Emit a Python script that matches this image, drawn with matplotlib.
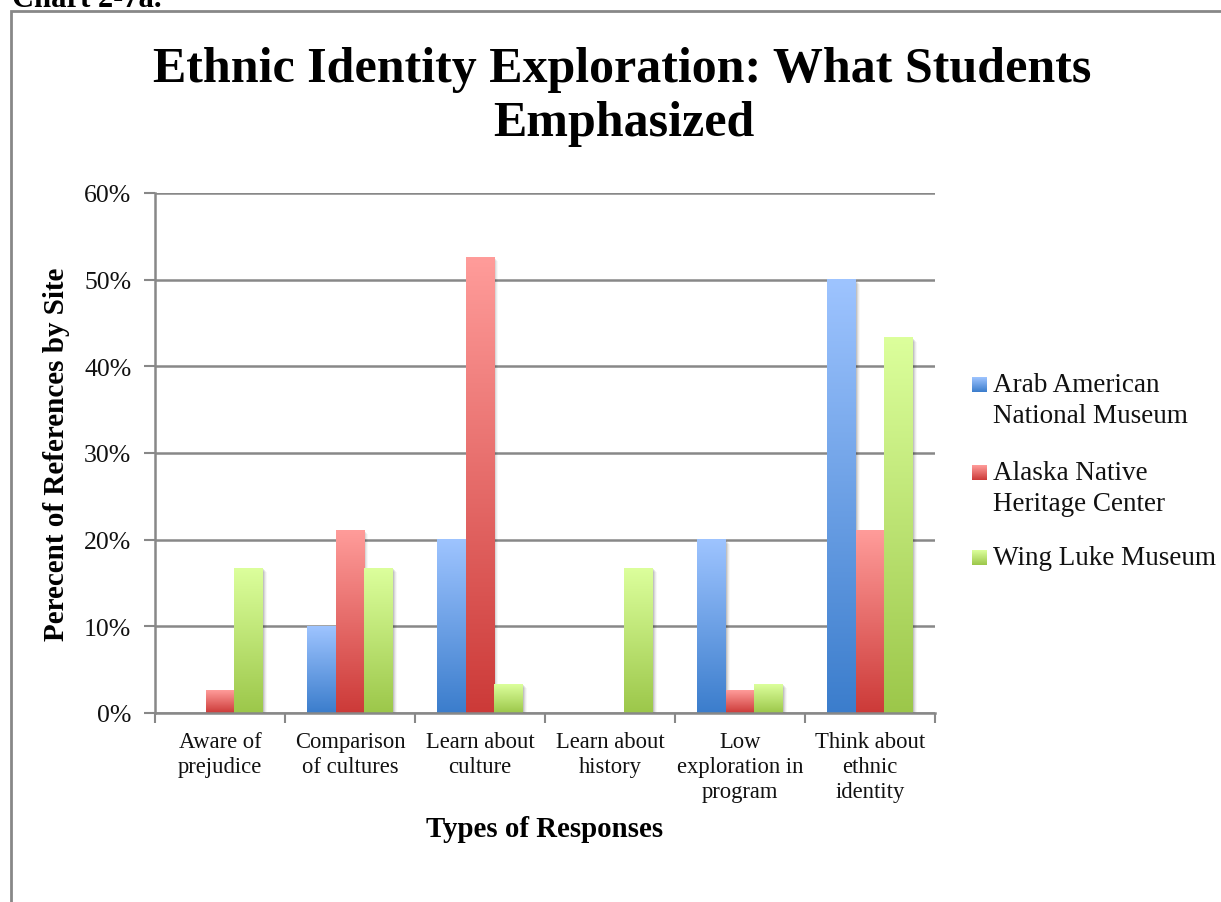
import numpy as np
import matplotlib
matplotlib.use('Agg')
import matplotlib.pyplot as plt
from matplotlib.colors import LinearSegmentedColormap
from matplotlib.patches import Rectangle

categories = ["Aware of\nprejudice", "Comparison\nof cultures", "Learn about\nculture",
              "Learn about\nhistory", "Low\nexploration in\nprogram", "Think about\nethnic\nidentity"]
series_names = ["Arab American\nNational Museum", "Alaska Native\nHeritage Center", "Wing Luke Museum"]
arab = [0.0, 0.10, 0.20, 0.0, 0.20, 0.50]
alaska = [0.026, 0.211, 0.526, 0.0, 0.026, 0.211]
wing = [0.167, 0.167, 0.033, 0.167, 0.033, 0.433]
series = [arab, alaska, wing]

# top (light) and bottom (dark) colours of each series gradient
grads = [("#9ec4ff", "#3b7dcc"), ("#ff9c9a", "#cc3a38"), ("#dcff9c", "#9cc74a")]
yticks = [0, 0.1, 0.2, 0.3, 0.4, 0.5, 0.6]
ytick_labels = ["0%", "10%", "20%", "30%", "40%", "50%", "60%"]

plt.rcParams['font.family'] = "Liberation Serif"

W, H = 1221, 903
fig = plt.figure(figsize=(W / 100, H / 100), dpi=100)
ax = fig.add_axes([155 / W, 1 - 714 / H, 780 / W, 520 / H])


def fy(py):
    return 1 - py / H


n = len(categories)
bw = 1 / 4.5
px_x = 1 / 130.0
px_y = 0.6 / 520.0
grad = np.linspace(0, 1, 256).reshape(-1, 1)
for i, vals in enumerate(series):
    cmap = LinearSegmentedColormap.from_list("g%d" % i, [grads[i][1], grads[i][0]])
    for j, v in enumerate(vals):
        if v <= 0:
            continue
        x0 = j + 0.5 - 1.5 * bw + i * bw
        # soft drop shadow
        for k, a in zip(range(1, 5), [0.10, 0.08, 0.05, 0.03]):
            ax.add_patch(Rectangle((x0 + k * px_x, 0), bw, v - k * px_y,
                                   facecolor="black", alpha=a, lw=0, zorder=2))
        ax.imshow(grad, extent=[x0, x0 + bw, 0, v], origin="lower", cmap=cmap,
                  aspect="auto", zorder=3, interpolation="bilinear")

ax.set_xlim(0, n)
ax.set_ylim(0, 0.6)
ax.set_yticks(yticks)
ax.set_yticklabels(ytick_labels, fontsize=18.5, color="#111111")
ax.set_xticks(range(n + 1))
ax.set_xticklabels([])
ax.tick_params(axis="x", which="major", length=7, width=1.5, color="#888888", direction="out")
ax.tick_params(axis="y", length=8, width=1.5, color="#888888", pad=9)
ax.grid(axis="y", color="#888888", lw=1.8, zorder=1)
for s in ["top", "right"]:
    ax.spines[s].set_visible(False)
for s in ["left", "bottom"]:
    ax.spines[s].set_color("#888888")
    ax.spines[s].set_linewidth(1.8)
    ax.spines[s].set_zorder(4)

# category labels, one line at a time
for j, lab in enumerate(categories):
    xc = (155 + 130 * (j + 0.5)) / W
    for k, line in enumerate(lab.split("\n")):
        fig.text(xc, fy(748 + 25 * k), line, ha="center", va="baseline",
                 fontsize=16.3, color="#111111")

fig.text(57 / W, fy(454), "Perecent of References by Site", rotation=90,
         ha="center", va="center", fontsize=21, fontweight="bold")
fig.text(545 / W, fy(837), "Types of Responses", ha="center", va="baseline",
         fontsize=20.8, fontweight="bold")

fig.text(622 / W, fy(82), "Ethnic Identity Exploration: What Students",
         ha="center", va="baseline", fontsize=36, fontweight="bold")
fig.text(624 / W, fy(136), "Emphasized",
         ha="center", va="baseline", fontsize=36, fontweight="bold")

# legend with gradient squares
leg_base = [392, 480, 565]
for i, name in enumerate(series_names):
    b = leg_base[i]
    cmap = LinearSegmentedColormap.from_list("l%d" % i, [grads[i][1], grads[i][0]])
    lax = fig.add_axes([972 / W, fy(b + 1), 15 / W, 15 / H])
    lax.imshow(np.linspace(0, 1, 64).reshape(-1, 1), origin="lower", cmap=cmap,
               aspect="auto")
    lax.axis("off")
    for k, line in enumerate(name.split("\n")):
        fig.text(993 / W, fy(b + 31 * k), line, ha="left", va="baseline",
                 fontsize=19.5, color="#111111")

# chart frame and caption above it
fig.add_artist(Rectangle((11 / W, -0.1), 1.2, 1 - 12 / H + 0.1,
                         transform=fig.transFigure, fill=False, edgecolor="#888888", lw=2))
fig.text(12 / W, fy(7), "Chart 2-7a.", ha="left", va="baseline",
         fontsize=22, fontweight="bold")

fig.savefig("out.png", dpi=100)
